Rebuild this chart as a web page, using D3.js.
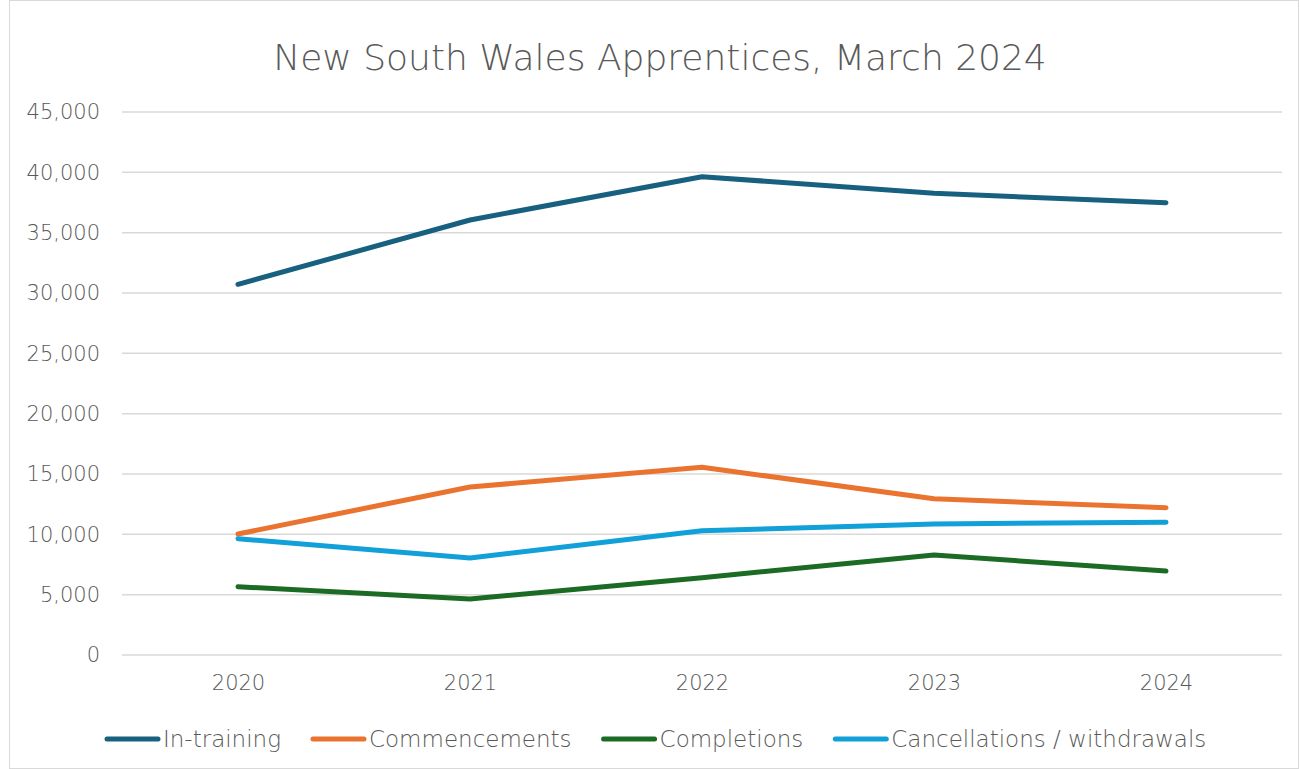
<!DOCTYPE html>
<html>
<head>
<meta charset="utf-8">
<script src="https://cdn.jsdelivr.net/npm/d3@7"></script>
<style>
  body { margin: 0; background: #fff; }
  text { font-family: "DejaVu Sans", sans-serif; font-weight: 200; fill: #595959; }
</style>
</head>
<body>
<script>
// #Data
const years = ['2020', '2021', '2022', '2023', '2024'];
const inTraining = [30720, 36050, 39640, 38260, 37480];
const commencements = [10030, 13920, 15560, 12950, 12210];
const completions = [5660, 4640, 6410, 8290, 6960];
const cancellations = [9640, 8040, 10300, 10860, 11000];
const yTicks = [0, 5000, 10000, 15000, 20000, 25000, 30000, 35000, 40000, 45000];

const series = [
    {name: 'In-training', values: inTraining, color: '#17607f'},
    {name: 'Commencements', values: commencements, color: '#ea7330'},
    {name: 'Completions', values: completions, color: '#1b6b24'},
    {name: 'Cancellations / withdrawals', values: cancellations, color: '#11a0d8'}
];

// #Define SVG
const width = 1300, height = 769;
const svg = d3.select('body')
              .append('svg')
              .attr('width', width)
              .attr('height', height);

svg.append('rect')
   .attr('x', 9.5).attr('y', 0.5)
   .attr('width', width - 11).attr('height', height - 1)
   .attr('fill', '#fff')
   .attr('stroke', '#d9d9d9');

const plotL = 122, plotR = 1282, plotT = 112, plotB = 655;

// #Scales
const x = d3.scalePoint()
            .domain(years)
            .range([plotL, plotR])
            .padding(0.5);

const y = d3.scaleLinear()
            .domain([0, 45000])
            .range([plotB, plotT]);

// #Gridlines
svg.append('g')
   .selectAll('line')
   .data(yTicks)
   .enter()
   .append('line')
   .attr('x1', plotL).attr('x2', plotR)
   .attr('y1', d => y(d)).attr('y2', d => y(d))
   .attr('stroke', '#d9d9d9')
   .attr('stroke-width', 1.5);

// #Axes
const yAxis = d3.axisLeft(y)
                .tickValues(yTicks)
                .tickFormat(d3.format(','))
                .tickSize(0)
                .tickPadding(22);

svg.append('g')
   .attr('transform', 'translate(' + plotL + ',0)')
   .call(yAxis)
   .call(g => g.select('.domain').remove())
   .selectAll('text')
   .style('font-size', '21px')
   .attr('fill', '#595959');

const xAxis = d3.axisBottom(x).tickSize(0).tickPadding(20);

svg.append('g')
   .attr('transform', 'translate(0,' + plotB + ')')
   .call(xAxis)
   .call(g => g.select('.domain').remove())
   .selectAll('text')
   .style('font-size', '21px')
   .attr('fill', '#595959');

// #Lines
const line = d3.line()
               .x((d, i) => x(years[i]))
               .y(d => y(d));

svg.append('g')
   .selectAll('path')
   .data(series)
   .enter()
   .append('path')
   .attr('d', d => line(d.values))
   .attr('fill', 'none')
   .attr('stroke', d => d.color)
   .attr('stroke-width', 5)
   .attr('stroke-linecap', 'round')
   .attr('stroke-linejoin', 'round');

// #Title
svg.append('text')
   .attr('x', 660)
   .attr('y', 70)
   .attr('text-anchor', 'middle')
   .style('font-size', '36px')
   .text('New South Wales Apprentices, March 2024');

// #Legend
const legend = svg.append('g').attr('transform', 'translate(0,739)');
let lx = 105;
series.forEach(s => {
    legend.append('line')
          .attr('x1', lx + 2).attr('x2', lx + 53)
          .attr('y1', 0).attr('y2', 0)
          .attr('stroke', s.color)
          .attr('stroke-width', 5)
          .attr('stroke-linecap', 'round');
    const t = legend.append('text')
                    .attr('x', lx + 58)
                    .attr('y', 8)
                    .style('font-size', '23px')
                    .text(s.name);
    lx += 58 + t.node().getComputedTextLength() + 30;
});
</script>
</body>
</html>
